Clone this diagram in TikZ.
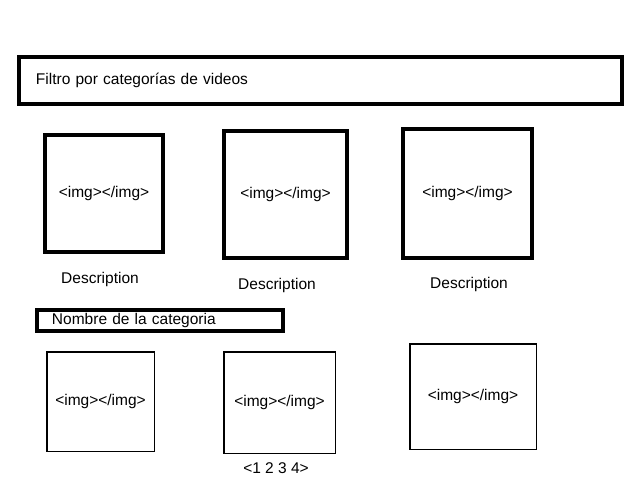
\documentclass[tikz,border=0pt]{standalone}
\usepackage{fontspec}
\setmainfont{Liberation Sans}
\usetikzlibrary{positioning}
\newcommand{\wfont}{\fontsize{15.5bp}{18bp}\selectfont}
\tikzset{
  bar/.style={draw,line width=4bp,align=left,inner ysep=2bp,font=\wfont},
  thumb/.style={draw,line width=4bp,inner sep=0pt,font=\wfont},
  thinthumb/.style={thumb,line width=1.5bp},
  caption/.style={inner sep=0pt,font=\wfont},
}

\begin{document}
\begin{tikzpicture}[x=1bp,y=-1bp]
  \useasboundingbox (0,0) rectangle (640,480);
  \node[bar,minimum width=603bp,minimum height=47bp,text width=569bp,inner xsep=17bp] (filtro) at (320.5,80.5) {Filtro por categorías de videos};
  \node[thumb,minimum width=118bp,minimum height=117bp] (thumb1) at (104,193.5) {<img></img>};
  \node[thumb,minimum width=123bp,minimum height=127bp] (thumb2) at (285.5,194.5) {<img></img>};
  \node[thumb,minimum width=129bp,minimum height=129bp] (thumb3) at (467.5,193.5) {<img></img>};
  \node[caption] (desc1) at (100,279) {Description};
  \node[caption] (desc2) at (277,285) {Description};
  \node[caption] (desc3) at (469,284) {Description};
  \node[bar,line width=3.5bp,minimum width=246bp,minimum height=21bp,text width=216bp,inner xsep=15bp] (categoria) at (160,320.5) {Nombre de la categoria};
  \node[thinthumb,minimum width=107.5bp,minimum height=99.5bp] (thumb4) at (100.5,401.5) {<img></img>};
  \node[thinthumb,minimum width=111.5bp,minimum height=101.5bp] (thumb5) at (279.5,402.5) {<img></img>};
  \node[thinthumb,minimum width=126.5bp,minimum height=105.5bp] (thumb6) at (473,396.5) {<img></img>};
  \node[caption] (pager) at (276,468) {<1 2 3 4>};
\end{tikzpicture}
\end{document}
